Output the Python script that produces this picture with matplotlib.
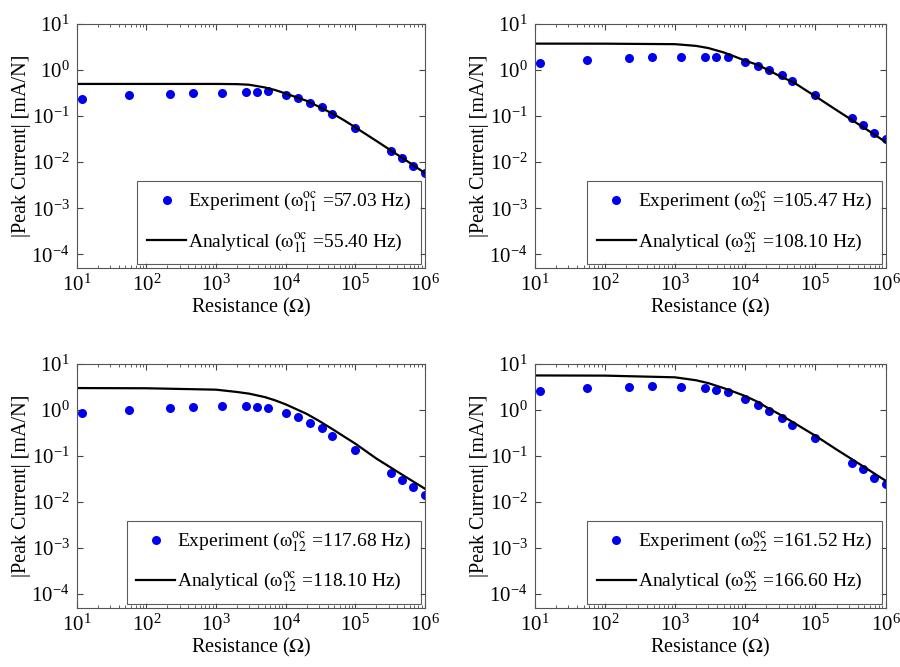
import matplotlib
matplotlib.use("Agg")
import matplotlib.pyplot as plt

plt.rcParams['font.family'] = ['Liberation Serif', 'DejaVu Serif']
plt.rcParams['mathtext.fontset'] = 'stix'

# experiment: resistor values (ohm)
r_exp = [12, 56, 220, 470, 1200, 2700, 3900, 5600, 10e3, 15e3, 22e3, 33e3,
         47e3, 100e3, 330e3, 470e3, 680e3, 1e6]

exp_11 = [0.24, 0.284, 0.309, 0.31, 0.32, 0.34, 0.34, 0.345, 0.29, 0.249,
          0.197, 0.154, 0.112, 0.056, 0.0173, 0.0122, 0.0082, 0.0059]
exp_21 = [1.44, 1.64, 1.79, 1.91, 1.94, 1.94, 1.94, 1.88, 1.49, 1.24,
          1.0, 0.78, 0.58, 0.294, 0.0906, 0.065, 0.043, 0.032]
exp_12 = [0.85, 1.0, 1.10, 1.16, 1.22, 1.20, 1.16, 1.12, 0.86, 0.70,
          0.52, 0.395, 0.275, 0.137, 0.043, 0.0294, 0.0207, 0.0144]
exp_22 = [2.57, 2.94, 3.14, 3.24, 3.19, 2.94, 2.75, 2.45, 1.70, 1.26,
          0.94, 0.67, 0.47, 0.24, 0.072, 0.051, 0.034, 0.0245]

# analytical curves
r_ana = [10, 100, 1000, 2000, 3000, 5000, 7000, 1e4, 1.5e4, 2e4, 3e4, 5e4,
         7e4, 1e5, 2e5, 5e5, 1e6]
ana_11 = [0.50, 0.50, 0.50, 0.495, 0.48, 0.42, 0.37, 0.31, 0.25, 0.215,
          0.16, 0.108, 0.08, 0.057, 0.029, 0.0117, 0.0058]
ana_21 = [3.75, 3.74, 3.65, 3.35, 3.0, 2.4, 1.98, 1.6, 1.3, 1.05,
          0.76, 0.53, 0.38, 0.27, 0.135, 0.055, 0.0275]
ana_12 = [2.98, 2.95, 2.75, 2.45, 2.25, 1.9, 1.62, 1.32, 1.0, 0.82,
          0.58, 0.36, 0.26, 0.185, 0.088, 0.037, 0.0194]
ana_22 = [5.6, 5.55, 5.1, 4.4, 3.8, 2.95, 2.45, 2.0, 1.5, 1.15,
          0.82, 0.52, 0.38, 0.275, 0.138, 0.057, 0.029]

modes = ['11', '21', '12', '22']
f_exp = ['57.03', '105.47', '117.68', '161.52']
f_ana = ['55.40', '108.10', '118.10', '166.60']

fig = plt.figure(figsize=(9, 6.67), dpi=100)

boxes = [[0.0852, 0.598, 0.387, 0.366],
         [0.594, 0.598, 0.390, 0.366],
         [0.0852, 0.0885, 0.387, 0.366],
         [0.594, 0.0885, 0.390, 0.366]]
exps = [exp_11, exp_21, exp_12, exp_22]
anas = [ana_11, ana_21, ana_12, ana_22]

for i in range(4):
    ax = fig.add_axes(boxes[i])
    m = modes[i]
    ax.loglog(r_exp, exps[i], 'o', color='#0000ee', markersize=6.5, markeredgewidth=0,
              label=r'Experiment ($\mathrm{\omega}_{%s}^{\mathrm{oc}}$ =%s Hz)' % (m, f_exp[i]))
    ax.loglog(r_ana, anas[i], '-', color='black', linewidth=1.6,
              label=r'Analytical ($\mathrm{\omega}_{%s}^{\mathrm{oc}}$ =%s Hz)' % (m, f_ana[i]))
    ax.set_xlim(10, 1e6)
    ax.set_ylim(5e-5, 10)
    ax.set_xticks([1e1, 1e2, 1e3, 1e4, 1e5, 1e6])
    ax.set_yticks([1e-4, 1e-3, 1e-2, 1e-1, 1e0, 1e1])
    ax.tick_params(which='both', direction='in', top=True, right=True,
                   labelsize=15, color='#444444')
    ax.tick_params(which='major', length=4, pad=5)
    ax.tick_params(which='minor', length=2)
    for s in ax.spines.values():
        s.set_color('#555555')
        s.set_linewidth(0.8)
    ax.set_xlabel(r'Resistance ($\Omega$)', fontsize=14.5, labelpad=0)
    ax.set_ylabel('|Peak Current| [mA/N]', fontsize=14.5, labelpad=0)
    leg = ax.legend(loc='lower right', fontsize=14, numpoints=1, fancybox=False,
                    edgecolor='#333333', borderaxespad=0.2, handlelength=2.0,
                    handletextpad=0.1, labelspacing=0.85, borderpad=0.5)
    leg.get_frame().set_linewidth(0.8)

fig.savefig('out.png', dpi=100)
